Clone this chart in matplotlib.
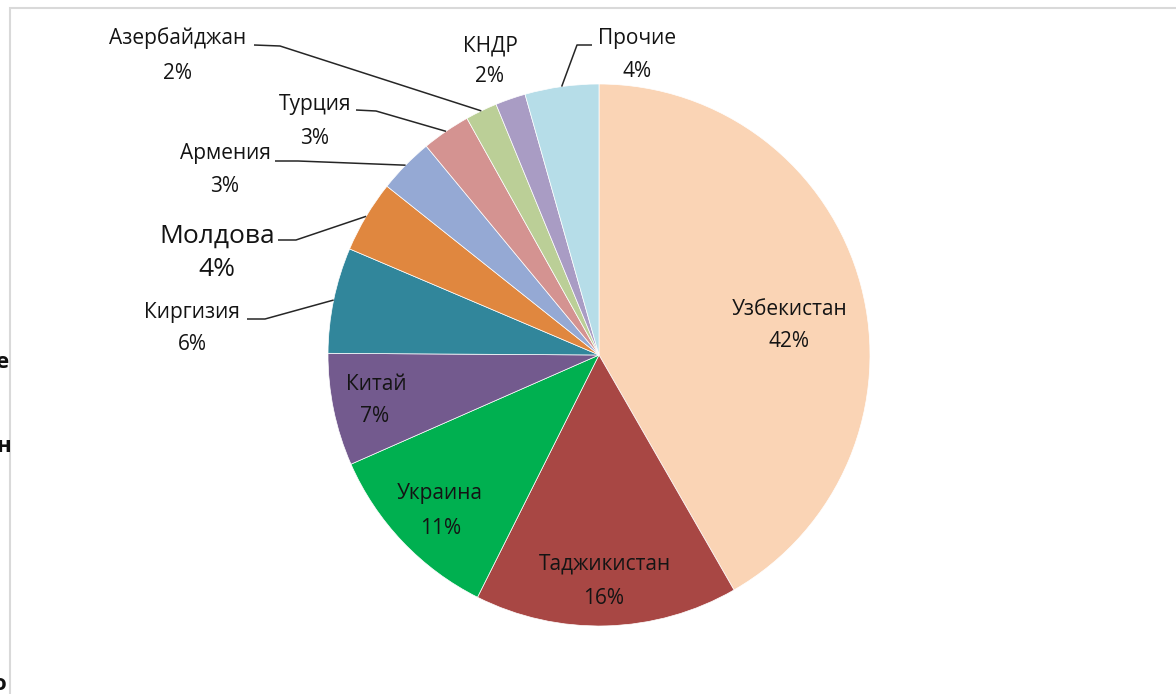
import matplotlib.pyplot as plt
import numpy as np
from matplotlib.patches import Rectangle

plt.rcParams['font.family'] = ['Open Sans', 'DejaVu Sans']

countries = ['Узбекистан', 'Таджикистан', 'Украина', 'Китай', 'Киргизия', 'Молдова',
             'Армения', 'Турция', 'Азербайджан', 'КНДР', 'Прочие']
shares = [41.7, 15.7, 11.0, 6.7, 6.3, 4.3, 3.3, 2.9, 1.9, 1.8, 4.4]
colors = ['#FAD4B5', '#A84744', '#00B050', '#735A8E', '#31869B', '#E0873F',
          '#95A9D4', '#D49391', '#BBCF97', '#A99CC4', '#B6DDE8']

W, H = 1176, 694
fig = plt.figure(figsize=(W / 100, H / 100), dpi=100)
ax = fig.add_axes([0, 0, 1, 1])

cx, cy, r = 599, 355, 271


def py(y):
    # pixel y (from top) -> data y
    return H - y


wedges, _ = ax.pie(shares, colors=colors, startangle=90, counterclock=False,
                   center=(cx, py(cy)), radius=r,
                   wedgeprops=dict(edgecolor='white', linewidth=0.5))
ax.set_xlim(0, W)
ax.set_ylim(0, H)
ax.set_aspect('equal')
ax.axis('off')

txt = '#141414'
fs = 15
# label placement: name position, percent position, font size, leader (start, elbow) or None
layout = {
    'Узбекистан': ((790, 309), (789, 341), fs, None),
    'Таджикистан': ((605, 564), (604, 598), fs, None),
    'Украина': ((440, 494), (441, 528), fs, None),
    'Китай': ((376, 384), (375, 416), fs, None),
    'Киргизия': ((192, 312), (192, 344), fs, ((247, 319), (265, 319))),
    'Молдова': ((217, 236), (217, 269), 19, ((278, 240), (296, 240))),
    'Армения': ((225, 153), (225, 186), fs, ((275, 161), (298, 161))),
    'Турция': ((315, 104), (315, 138), fs, ((356, 110), (376, 111))),
    'Азербайджан': ((178, 38), (178, 73), fs, ((254, 45), (280, 46))),
    'КНДР': ((490, 46), (490, 76), fs, None),
    'Прочие': ((637, 38), (637, 71), fs, ((592, 45), (577, 45))),
}

for w, name, val in zip(wedges, countries, shares):
    (nx, ny), (px, pyy), size, leader = layout[name]
    ax.text(nx, py(ny), name, ha='center', va='center', fontsize=size, color=txt)
    ax.text(px, py(pyy), f'{round(val)}%', ha='center', va='center', fontsize=size, color=txt)
    if leader is not None:
        mid = np.deg2rad((w.theta1 + w.theta2) / 2)
        ex, ey = cx + r * np.cos(mid), py(cy) + r * np.sin(mid)
        (sx, sy), (bx, by) = leader
        ax.plot([sx, bx, ex], [py(sy), py(by), ey], color='#262626', lw=1.1,
                solid_capstyle='butt')

# chart frame (partly outside the crop) and cut-off text on the left
fig.patches.append(Rectangle((10 / W, -0.1), 1.0, 1.1 - 8 / H, transform=fig.transFigure,
                             fill=False, edgecolor='#d9d9d9', lw=1.5))
for ch, x, y in [('е', 9, 362), ('н', 11, 447), ('о', 7, 684)]:
    fig.text(x / W, 1 - y / H, ch, ha='right', va='center', fontsize=16,
             fontweight='bold', color='#111111')

fig.savefig('out.png', dpi=100)
